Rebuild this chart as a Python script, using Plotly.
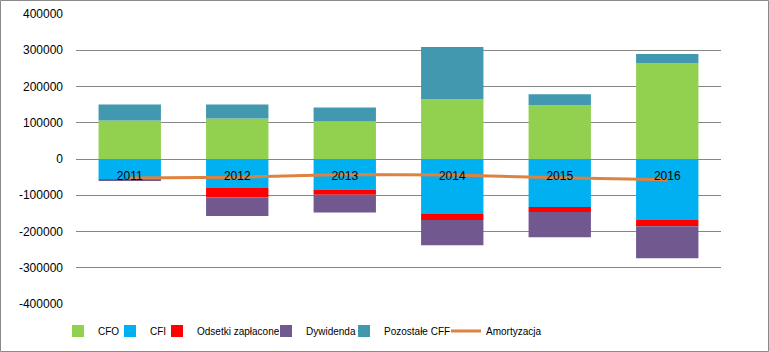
import plotly.graph_objects as go

years = ["2011", "2012", "2013", "2014", "2015", "2016"]
cfo = [106000, 111600, 103300, 164800, 148200, 264800]
cfi = [-55500, -78600, -84200, -151900, -132400, -168500]
odsetki = [0, -27700, -14700, -16600, -13900, -16700]
dywidenda = [-2500, -50700, -48900, -69500, -69500, -88900]
pozostale = [44400, 38800, 38700, 144500, 30500, 25000]
amortyzacja = [-52600, -50000, -42600, -44400, -51800, -57400]

y_ticks = [400000, 300000, 200000, 100000, 0, -100000, -200000, -300000, -400000]

W, H = 769, 352
L, R, T, B = 76, 48, 14, 48
PW, PH = W - L - R, H - T - B

FONT = "Liberation Sans"

def px_x(px):
    return (px - L) / PW

def px_y(py):
    return (H - B - py) / PH

series = [
    ("CFO", cfo, "#92D050", 98),
    ("CFI", cfi, "#00B0F0", 150),
    ("Odsetki zapłacone", odsetki, "#FF0000", 197),
    ("Dywidenda", dywidenda, "#71588F", 306),
    ("Pozostałe CFF", pozostale, "#4198AF", 384),
]

fig = go.Figure()
legends = {}
for i, (name, vals, col, tx) in enumerate(series):
    lg = "legend" if i == 0 else f"legend{i+1}"
    fig.add_trace(go.Bar(x=years, y=vals, name=name, marker=dict(color=col, line=dict(width=0)),
                         legend=lg))
    legends[lg] = tx

lg = "legend6"
fig.add_trace(go.Scatter(x=years, y=amortyzacja, name="Amortyzacja", mode="lines",
                         line=dict(color="#E0823F", width=3), legend=lg))
legends[lg] = 486

layout_legends = {}
for lg, tx in legends.items():
    layout_legends[lg] = dict(
        x=px_x(tx - 40), xanchor="left", y=px_y(331), yanchor="middle",
        orientation="h", bgcolor="rgba(0,0,0,0)", borderwidth=0,
        font=dict(family=FONT, size=10, color="#000000"),
        itemwidth=30,
    )

fig.update_layout(
    width=W, height=H,
    margin=dict(l=L, r=R, t=T, b=B, pad=0, autoexpand=False),
    paper_bgcolor="white", plot_bgcolor="white",
    barmode="relative", bargap=0.42,
    font=dict(family=FONT, size=12, color="#000000"),
    showlegend=True,
    xaxis=dict(
        type="category", anchor="free", position=0.5,
        showgrid=False, showline=False, zeroline=False, ticks="",
        ticklabelstandoff=8, tickfont=dict(family=FONT, size=12, color="#000000"),
        layer="above traces",
    ),
    yaxis=dict(
        range=[-400000, 400000], tickvals=y_ticks, ticktext=[str(v) for v in y_ticks],
        showgrid=True, gridcolor="#868686", gridwidth=1,
        zeroline=True, zerolinecolor="#868686", zerolinewidth=1,
        showline=False, ticks="", ticklabelstandoff=12,
        tickfont=dict(family=FONT, size=12, color="#000000"),
        layer="below traces",
    ),
    shapes=[dict(
        type="rect", xref="paper", yref="paper",
        x0=px_x(0.5), x1=px_x(W - 0.5), y0=px_y(H - 0.5), y1=px_y(0.5),
        line=dict(color="#898989", width=1), fillcolor="rgba(0,0,0,0)", layer="below",
    )],
    **layout_legends,
)

fig.write_html("out.html")
